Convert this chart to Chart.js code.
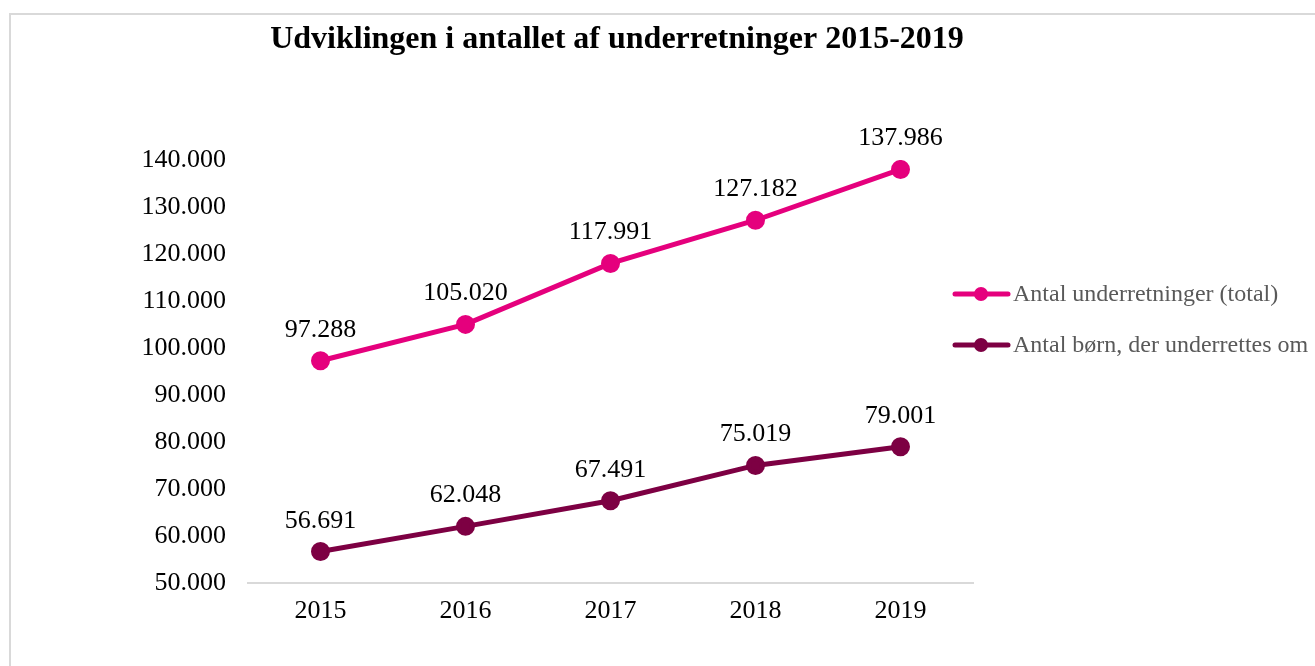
<!DOCTYPE html>
<html>
<head>
<meta charset="utf-8">
<script src="https://cdn.jsdelivr.net/npm/chart.js@4"></script>
<style>
  html, body { margin: 0; padding: 0; background: #fff; }
  #wrap { position: relative; width: 1315px; height: 666px; overflow: hidden; }
  #frame { position: absolute; left: 9px; top: 13px; width: 1304px; height: 700px;
           border: 2px solid #d9d9d9; border-bottom: none; }
  canvas { position: absolute; left: 0; top: 0; }
</style>
</head>
<body>
<div id="wrap">
  <div id="frame"></div>
  <canvas id="myChart" width="1315" height="666"></canvas>
</div>
<script>
const titleText = 'Udviklingen i antallet af underretninger 2015-2019';
const years = ['2015', '2016', '2017', '2018', '2019'];
const underretninger = [97288, 105020, 117991, 127182, 137986];
const boern = [56691, 62048, 67491, 75019, 79001];
const seriesNames = ['Antal underretninger (total)', 'Antal børn, der underrettes om'];
const seriesColors = ['#E5007D', '#7D0043'];

const serif = "'Liberation Serif', 'Times New Roman', serif";

function fmt(v) {
  return String(v).replace(/\B(?=(\d{3})+(?!\d))/g, '.');
}

// title, value labels and legend drawn on the canvas
const extras = {
  id: 'extras',
  afterDatasetsDraw(chart) {
    const ctx = chart.ctx;
    ctx.save();
    ctx.fillStyle = '#000';
    ctx.font = '26px ' + serif;
    ctx.textAlign = 'center';
    ctx.textBaseline = 'alphabetic';
    chart.data.datasets.forEach((ds, i) => {
      chart.getDatasetMeta(i).data.forEach((pt, j) => {
        ctx.fillText(fmt(ds.data[j]), pt.x, pt.y - 24);
      });
    });

    ctx.font = 'bold 32px ' + serif;
    ctx.fillText(titleText, 617, 48);

    ctx.textAlign = 'left';
    ctx.textBaseline = 'middle';
    ctx.font = '24px ' + serif;
    chart.data.datasets.forEach((ds, i) => {
      const y = 294 + i * 51;
      ctx.strokeStyle = ds.borderColor;
      ctx.lineWidth = 5;
      ctx.lineCap = 'round';
      ctx.beginPath();
      ctx.moveTo(955, y);
      ctx.lineTo(1008, y);
      ctx.stroke();
      ctx.fillStyle = ds.borderColor;
      ctx.beginPath();
      ctx.arc(981, y, 7, 0, Math.PI * 2);
      ctx.fill();
      ctx.fillStyle = '#595959';
      ctx.fillText(ds.label, 1013, y + 1);
    });
    ctx.restore();
  }
};

function createChart() {
  const ctx = document.getElementById('myChart').getContext('2d');
  new Chart(ctx, {
    type: 'line',
    data: {
      labels: years,
      datasets: [underretninger, boern].map((d, i) => ({
        label: seriesNames[i],
        data: d,
        borderColor: seriesColors[i],
        backgroundColor: seriesColors[i],
        pointBackgroundColor: seriesColors[i],
        pointBorderColor: seriesColors[i],
        borderWidth: 5,
        pointRadius: 7,
        pointHoverRadius: 7,
        tension: 0,
        fill: false
      }))
    },
    plugins: [extras],
    options: {
      responsive: false,
      animation: false,
      layout: { padding: { left: 0, right: 342, top: 160, bottom: 0 } },
      plugins: {
        legend: { display: false },
        title: { display: false },
        tooltip: { enabled: false }
      },
      scales: {
        x: {
          offset: true,
          grid: { display: false, drawTicks: false },
          border: { display: true, color: '#d9d9d9', width: 2 },
          ticks: { color: '#000', font: { family: serif, size: 26 }, padding: 13 },
          afterFit(scale) { scale.height = 83; }
        },
        y: {
          min: 50000,
          max: 140000,
          grid: { display: false, drawTicks: false },
          border: { display: false },
          ticks: {
            stepSize: 10000,
            color: '#000',
            padding: 22,
            font: { family: serif, size: 26 },
            callback: v => fmt(v)
          },
          afterFit(scale) { scale.width = 248; }
        }
      }
    }
  });
}

window.onload = createChart;
</script>
</body>
</html>
